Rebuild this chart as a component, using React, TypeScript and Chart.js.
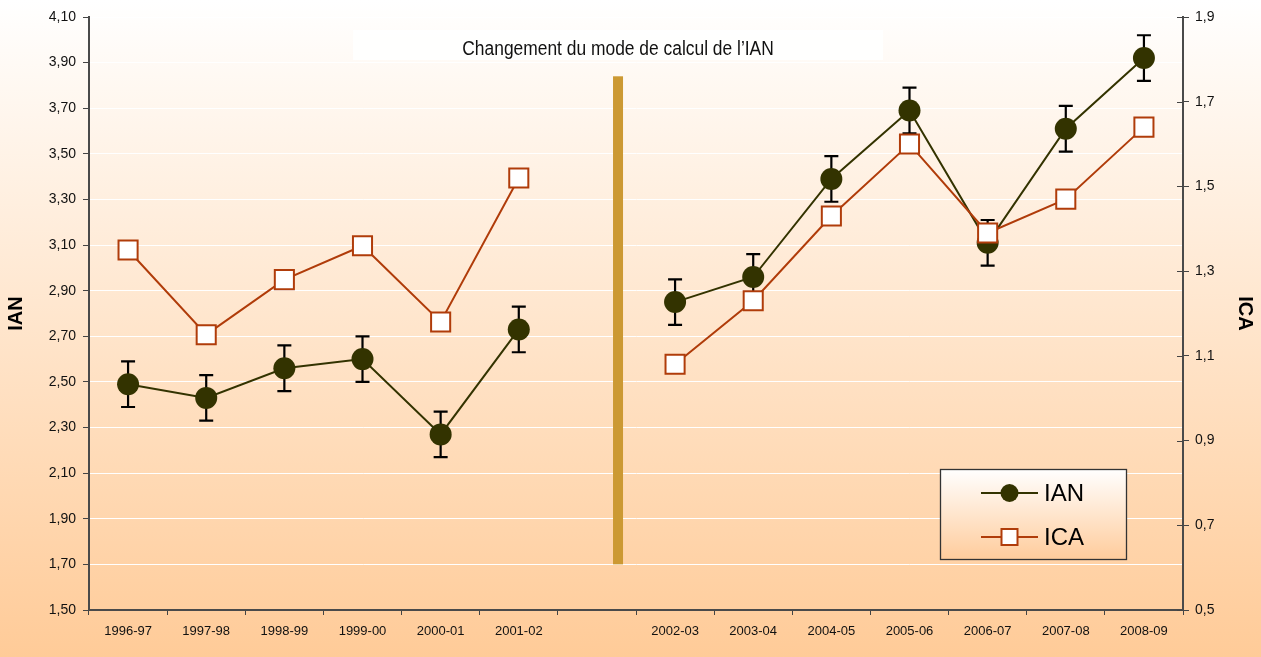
import React, { useEffect, useRef } from 'react';
import { Chart, registerables } from 'chart.js';

Chart.register(...registerables);

const categories = ['1996-97', '1997-98', '1998-99', '1999-00', '2000-01', '2001-02', '', '2002-03', '2003-04', '2004-05', '2005-06', '2006-07', '2007-08', '2008-09'];
const ianValues = [2.49, 2.43, 2.56, 2.60, 2.27, 2.73, null, 2.85, 2.96, 3.39, 3.69, 3.11, 3.61, 3.92];
const ianError = [0.10, 0.10, 0.10, 0.10, 0.10, 0.10, null, 0.10, 0.10, 0.10, 0.10, 0.10, 0.10, 0.10];
const icaValues = [1.35, 1.15, 1.28, 1.36, 1.18, 1.52, null, 1.08, 1.23, 1.43, 1.60, 1.39, 1.47, 1.64];
const ianAxis = { min: 1.5, max: 4.1, step: 0.2 };
const icaAxis = { min: 0.5, max: 1.9, step: 0.2 };
const separator = { index: 6.27, top: 3.84, bottom: 1.7 };
const noteText = 'Changement du mode de calcul de l\u2019IAN';
const legendLabels = ['IAN', 'ICA'];

const IAN_COLOR = '#333300';
const ICA_COLOR = '#B03C0A';
const FONT = '"Liberation Sans", Arial, sans-serif';

const bgPlugin = {
  id: 'bg',
  beforeDraw(chart: any) {
    const { ctx, width, height } = chart;
    const g = ctx.createLinearGradient(0, 0, 0, height);
    g.addColorStop(0, '#FFFFFF');
    g.addColorStop(1, '#FFCB98');
    ctx.save();
    ctx.fillStyle = g;
    ctx.fillRect(0, 0, width, height);
    ctx.restore();
  },
};

const errorPlugin = {
  id: 'errbars',
  beforeDatasetsDraw(chart: any) {
    const { ctx } = chart;
    const xs = chart.scales.x;
    const ys = chart.scales.y;
    ctx.save();
    ctx.strokeStyle = '#000';
    ctx.lineWidth = 2.2;
    ianValues.forEach((v, i) => {
      const e = ianError[i];
      if (v == null || e == null) return;
      const x = xs.getPixelForValue(i);
      const y1 = ys.getPixelForValue(v + e);
      const y2 = ys.getPixelForValue(v - e);
      ctx.beginPath();
      ctx.moveTo(x, y1);
      ctx.lineTo(x, y2);
      ctx.moveTo(x - 7, y1);
      ctx.lineTo(x + 7, y1);
      ctx.moveTo(x - 7, y2);
      ctx.lineTo(x + 7, y2);
      ctx.stroke();
    });
    // inner tick marks on the right axis
    const y1s = chart.scales.y1;
    ctx.strokeStyle = '#444';
    ctx.lineWidth = 1;
    y1s.ticks.forEach((t: any) => {
      const y = Math.round(y1s.getPixelForValue(t.value)) + 0.5;
      ctx.beginPath();
      ctx.moveTo(chart.chartArea.right - 6, y);
      ctx.lineTo(chart.chartArea.right, y);
      ctx.stroke();
    });
    ctx.restore();
  },
};

const annotationPlugin = {
  id: 'annot',
  afterDatasetsDraw(chart: any) {
    const { ctx, chartArea } = chart;
    const xs = chart.scales.x;
    const ys = chart.scales.y;
    const step = xs.getPixelForValue(1) - xs.getPixelForValue(0);
    const base = Math.floor(separator.index);
    const cx = xs.getPixelForValue(base) + (separator.index - base) * step;
    ctx.save();
    // separator bar
    const yt = ys.getPixelForValue(separator.top);
    const yb = ys.getPixelForValue(separator.bottom);
    ctx.fillStyle = '#CC9933';
    ctx.fillRect(cx - 5, yt, 10, yb - yt);
    // note box
    ctx.fillStyle = 'rgba(255,255,255,0.85)';
    ctx.fillRect(cx - 265, chartArea.top + 13, 530, 30);
    ctx.fillStyle = '#111';
    ctx.font = `20px ${FONT}`;
    ctx.textAlign = 'center';
    ctx.textBaseline = 'middle';
    ctx.save();
    ctx.translate(cx, chartArea.top + 32);
    ctx.scale(0.87, 1);
    ctx.fillText(noteText, 0, 0);
    ctx.restore();

    // legend
    const bx = chartArea.right - 243;
    const by = chartArea.bottom - 141;
    const bw = 186;
    const bh = 90;
    const g = ctx.createLinearGradient(0, by, 0, by + bh);
    g.addColorStop(0, '#FFFFFF');
    g.addColorStop(1, '#FFCC9C');
    ctx.fillStyle = g;
    ctx.fillRect(bx, by, bw, bh);
    ctx.strokeStyle = '#333333';
    ctx.lineWidth = 1.3;
    ctx.strokeRect(bx + 0.5, by + 0.5, bw, bh);

    const lx1 = bx + 41;
    const lx2 = bx + 98;
    const mx = (lx1 + lx2) / 2;
    const rows = [by + 24, by + 68];
    // IAN
    ctx.strokeStyle = IAN_COLOR;
    ctx.lineWidth = 2;
    ctx.beginPath();
    ctx.moveTo(lx1, rows[0]);
    ctx.lineTo(lx2, rows[0]);
    ctx.stroke();
    ctx.fillStyle = IAN_COLOR;
    ctx.beginPath();
    ctx.arc(mx, rows[0], 9, 0, Math.PI * 2);
    ctx.fill();
    // ICA
    ctx.strokeStyle = ICA_COLOR;
    ctx.beginPath();
    ctx.moveTo(lx1, rows[1]);
    ctx.lineTo(lx2, rows[1]);
    ctx.stroke();
    ctx.fillStyle = '#FFFFFF';
    ctx.fillRect(mx - 8, rows[1] - 8, 16, 16);
    ctx.strokeRect(mx - 8, rows[1] - 8, 16, 16);

    ctx.fillStyle = '#000';
    ctx.font = `24px ${FONT}`;
    ctx.textAlign = 'left';
    ctx.textBaseline = 'middle';
    ctx.fillText(legendLabels[0], lx2 + 6, rows[0] + 1);
    ctx.fillText(legendLabels[1], lx2 + 6, rows[1] + 1);
    ctx.restore();
  },
};

export default function App() {
  const ref = useRef<HTMLCanvasElement | null>(null);
  useEffect(() => {
    document.body.style.margin = '0';
    const canvas = ref.current;
    if (!canvas) return;
    const chart = new Chart(canvas, {
      type: 'line',
      data: {
        labels: categories,
        datasets: [
          {
            label: 'IAN',
            data: ianValues,
            yAxisID: 'y',
            borderColor: IAN_COLOR,
            backgroundColor: IAN_COLOR,
            borderWidth: 2,
            pointStyle: 'circle',
            pointRadius: 11,
            pointBackgroundColor: IAN_COLOR,
            pointBorderColor: IAN_COLOR,
            pointBorderWidth: 0,
            spanGaps: false,
            order: 2,
          },
          {
            label: 'ICA',
            data: icaValues,
            yAxisID: 'y1',
            borderColor: ICA_COLOR,
            backgroundColor: '#FFFFFF',
            borderWidth: 2,
            pointStyle: 'rect',
            pointRadius: 13.5,
            pointBackgroundColor: '#FFFFFF',
            pointBorderColor: ICA_COLOR,
            pointBorderWidth: 2,
            spanGaps: false,
            order: 1,
          },
        ],
      },
      options: {
        responsive: false,
        animation: false,
        layout: { padding: { top: 17, left: 0, right: 0, bottom: 0 } },
        plugins: { legend: { display: false }, tooltip: { enabled: false } },
        scales: {
          x: {
            type: 'category',
            offset: true,
            grid: {
              offset: true,
              drawOnChartArea: false,
              tickColor: '#444',
              tickLength: 5,
              lineWidth: 1,
            },
            border: { color: '#4a4a4a', width: 2 },
            ticks: { color: '#111', font: { family: FONT, size: 13 }, padding: 9, maxRotation: 0, autoSkip: false },
            afterFit(s: any) {
              s.height = 47;
            },
          },
          y: {
            position: 'left',
            min: ianAxis.min,
            max: ianAxis.max,
            ticks: {
              stepSize: ianAxis.step,
              color: '#111',
              font: { family: FONT, size: 14 },
              padding: 7,
              callback: (v: any) => Number(v).toFixed(2).replace('.', ','),
            },
            grid: { color: '#FFFFFF', lineWidth: 1, tickColor: '#444', tickLength: 6 },
            border: { color: '#4a4a4a', width: 2 },
            title: { display: true, text: 'IAN', color: '#000', font: { family: FONT, size: 20, weight: 'bold' } },
            afterFit(s: any) {
              s.width = 89;
            },
          },
          y1: {
            position: 'right',
            min: icaAxis.min,
            max: icaAxis.max,
            ticks: {
              stepSize: icaAxis.step,
              color: '#111',
              font: { family: FONT, size: 14 },
              padding: 6,
              callback: (v: any) => Number(v).toFixed(1).replace('.', ','),
            },
            grid: { drawOnChartArea: false, tickColor: '#444', tickLength: 6 },
            border: { color: '#4a4a4a', width: 2 },
            title: { display: true, text: 'ICA', color: '#000', font: { family: FONT, size: 20, weight: 'bold' } },
            afterFit(s: any) {
              s.width = 78;
            },
          },
        },
      },
      plugins: [bgPlugin, errorPlugin, annotationPlugin],
    } as any);
    return () => chart.destroy();
  }, []);
  return (
    <div style={{ width: 1261, height: 657 }}>
      <canvas ref={ref} width={1261} height={657} style={{ display: 'block' }} />
    </div>
  );
}
